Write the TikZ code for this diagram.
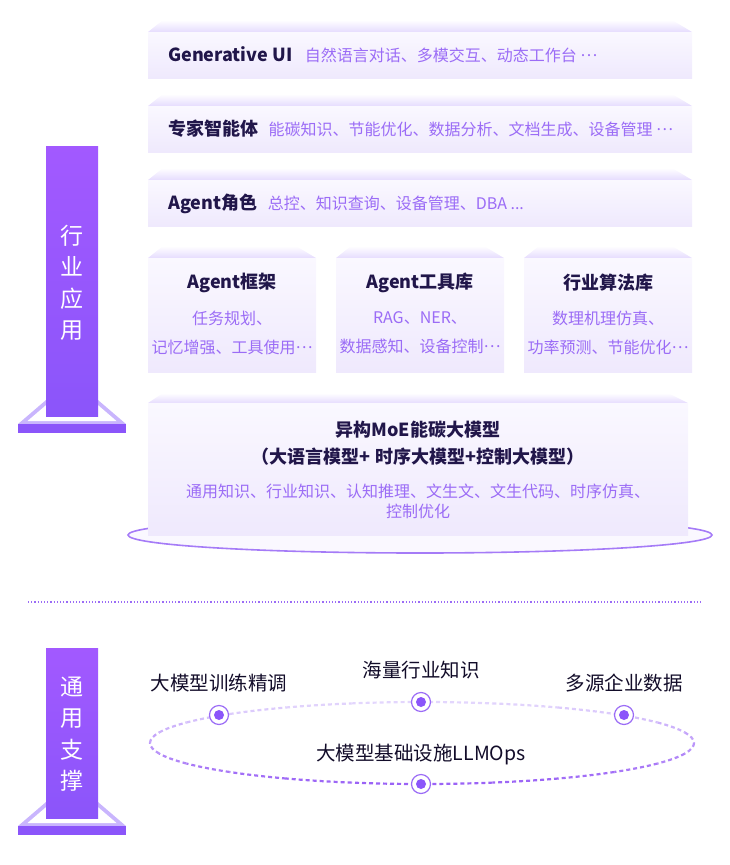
\documentclass[tikz,border=0pt]{standalone}
\usepackage{fontspec}
\setmainfont{Noto Sans CJK SC}
\usetikzlibrary{positioning}
\definecolor{ink}{HTML}{21164A}
\definecolor{lilac}{HTML}{9B6CF6}
\definecolor{violetA}{HTML}{A259FF}
\definecolor{violetB}{HTML}{8B55FA}
\definecolor{bevel}{HTML}{E6DCFE}
\definecolor{face}{HTML}{FAF8FF}
\definecolor{faceb}{HTML}{EFE9FD}
\definecolor{rim}{HTML}{C9B5FD}
\definecolor{ringdk}{HTML}{9A62F6}
\definecolor{ringlt}{HTML}{E6DBFD}
\newcommand{\mdots}{\raisebox{.3em}{…}}
% slab: x1, x2, bevel top, face top, face bottom
\newcommand{\slab}[5]{%
  \shade[top color=white,bottom color=bevel] (#1,#4) -- (#1+15,#3) -- (#2-20,#3) -- (#2,#4) -- cycle;
  \shade[top color=face,bottom color=faceb] (#1,#4) rectangle (#2,#5);}
% pillar: top, bottom
\newcommand{\pillar}[2]{%
  \fill[rim] (46,#2-16) -- (98,#2-16) -- (126,#2+8) -- (18,#2+8) -- cycle;
  \fill[white] (52,#2-16) -- (92,#2-16) -- (116.5,#2+5) -- (27.5,#2+5) -- cycle;
  \fill[violetB] (18,#2+8) rectangle (126,#2+17);
  \shade[top color=violetA,bottom color=violetB] (46,#1) rectangle (98,#2);}
\begin{document}
\begin{tikzpicture}[x=1pt,y=-1pt,
    ttl/.style={text=ink,font=\fontsize{18}{27}\selectfont\bfseries,inner sep=0pt,align=center},
    desc/.style={text=lilac,font=\fontsize{16}{20}\selectfont,inner sep=0pt,align=center},
    side/.style={text=white,font=\fontsize{23}{31.5}\selectfont,inner sep=0pt,align=center},
    lbl/.style={text=ink!55!black,font=\fontsize{19.5}{22}\selectfont,inner sep=0pt},
    dot/.style={circle,draw=lilac,line width=1.2pt,fill=white,minimum size=19pt,inner sep=0pt,
      path picture={\fill[violetB] (path picture bounding box.center) circle (5pt);}}]
  \useasboundingbox (0,0) rectangle (730,865);

  % upper part
  \slab{148}{692}{20}{32}{78}
  \slab{148}{692}{94}{106}{152}
  \slab{148}{692}{168}{180}{226}
  \node[ttl,anchor=base west] (gui) at (168,61) {Generative UI};
  \node[desc,right=12pt of gui.base east,anchor=base west] (guid) {自然语言对话、多模交互、动态工作台 \mdots};
  \node[ttl,anchor=base west] (expert) at (168,135) {专家智能体};
  \node[desc,right=10pt of expert.base east,anchor=base west] (expertd) {能碳知识、节能优化、数据分析、文档生成、设备管理 \mdots};
  \node[ttl,anchor=base west] (role) at (168,209) {Agent角色};
  \node[desc,right=10pt of role.base east,anchor=base west] (roled) {总控、知识查询、设备管理、DBA ...};

  \slab{148}{316}{246}{258}{372}
  \slab{336}{504}{246}{258}{372}
  \slab{524}{692}{246}{258}{372}
  \node[ttl] (frame) at (232,283) {Agent框架};
  \node[desc,font=\fontsize{16}{29}\selectfont] (framed) at (232,332.5) {任务规划、\\记忆增强、工具使用\mdots};
  \node[ttl] (tools) at (420,283) {Agent工具库};
  \node[desc,font=\fontsize{16}{29}\selectfont] (toolsd) at (420,332.5) {RAG、NER、\\数据感知、设备控制\mdots};
  \node[ttl] (algo) at (608,283) {行业算法库};
  \node[desc,font=\fontsize{16}{29}\selectfont] (algod) at (608,332.5) {数理机理仿真、\\功率预测、节能优化\mdots};

  \filldraw[fill=face,draw=lilac!90,line width=1.6pt] (420,535) ellipse [x radius=292,y radius=18];
  \slab{148}{688}{393}{403}{535}
  \node[ttl] (moe) at (418,443.5) {异构MoE能碳大模型\\（大语言模型+ 时序大模型+控制大模型）};
  \node[desc] (moed) at (418,501) {通用知识、行业知识、认知推理、文生文、文生代码、时序仿真、\\控制优化};

  \pillar{146}{416}
  \node[side] (apps) at (72,283) {行\\业\\应\\用};

  \draw[lilac,line width=1.2pt,dotted] (28,602) -- (703,602);

  % lower part
  \pillar{648}{818}
  \node[side] (base) at (72,734) {通\\用\\支\\撑};

  \foreach \a in {0,15,...,345}{
    \pgfmathsetmacro\m{int(52+48*sin(\a+7.5))}
    \draw[ringdk!\m!ringlt,line width=2.2pt,dash pattern=on 4pt off 3pt]
      (422,743) ++(\a:272 and 41) arc[start angle=\a,end angle=\a+15,x radius=272,y radius=41];
  }
  \node[dot] (d1) at (219,715) {};
  \node[dot] (d2) at (421,702) {};
  \node[dot] (d3) at (624,715) {};
  \node[dot] (d4) at (421,784) {};
  \node[lbl,above=13pt of d1] (train) {大模型训练精调};
  \node[lbl,above=13pt of d2] (know) {海量行业知识};
  \node[lbl,above=13pt of d3] (data) {多源企业数据};
  \node[lbl,above=9pt of d4] (llmops) {大模型基础设施LLMOps};
\end{tikzpicture}
\end{document}
